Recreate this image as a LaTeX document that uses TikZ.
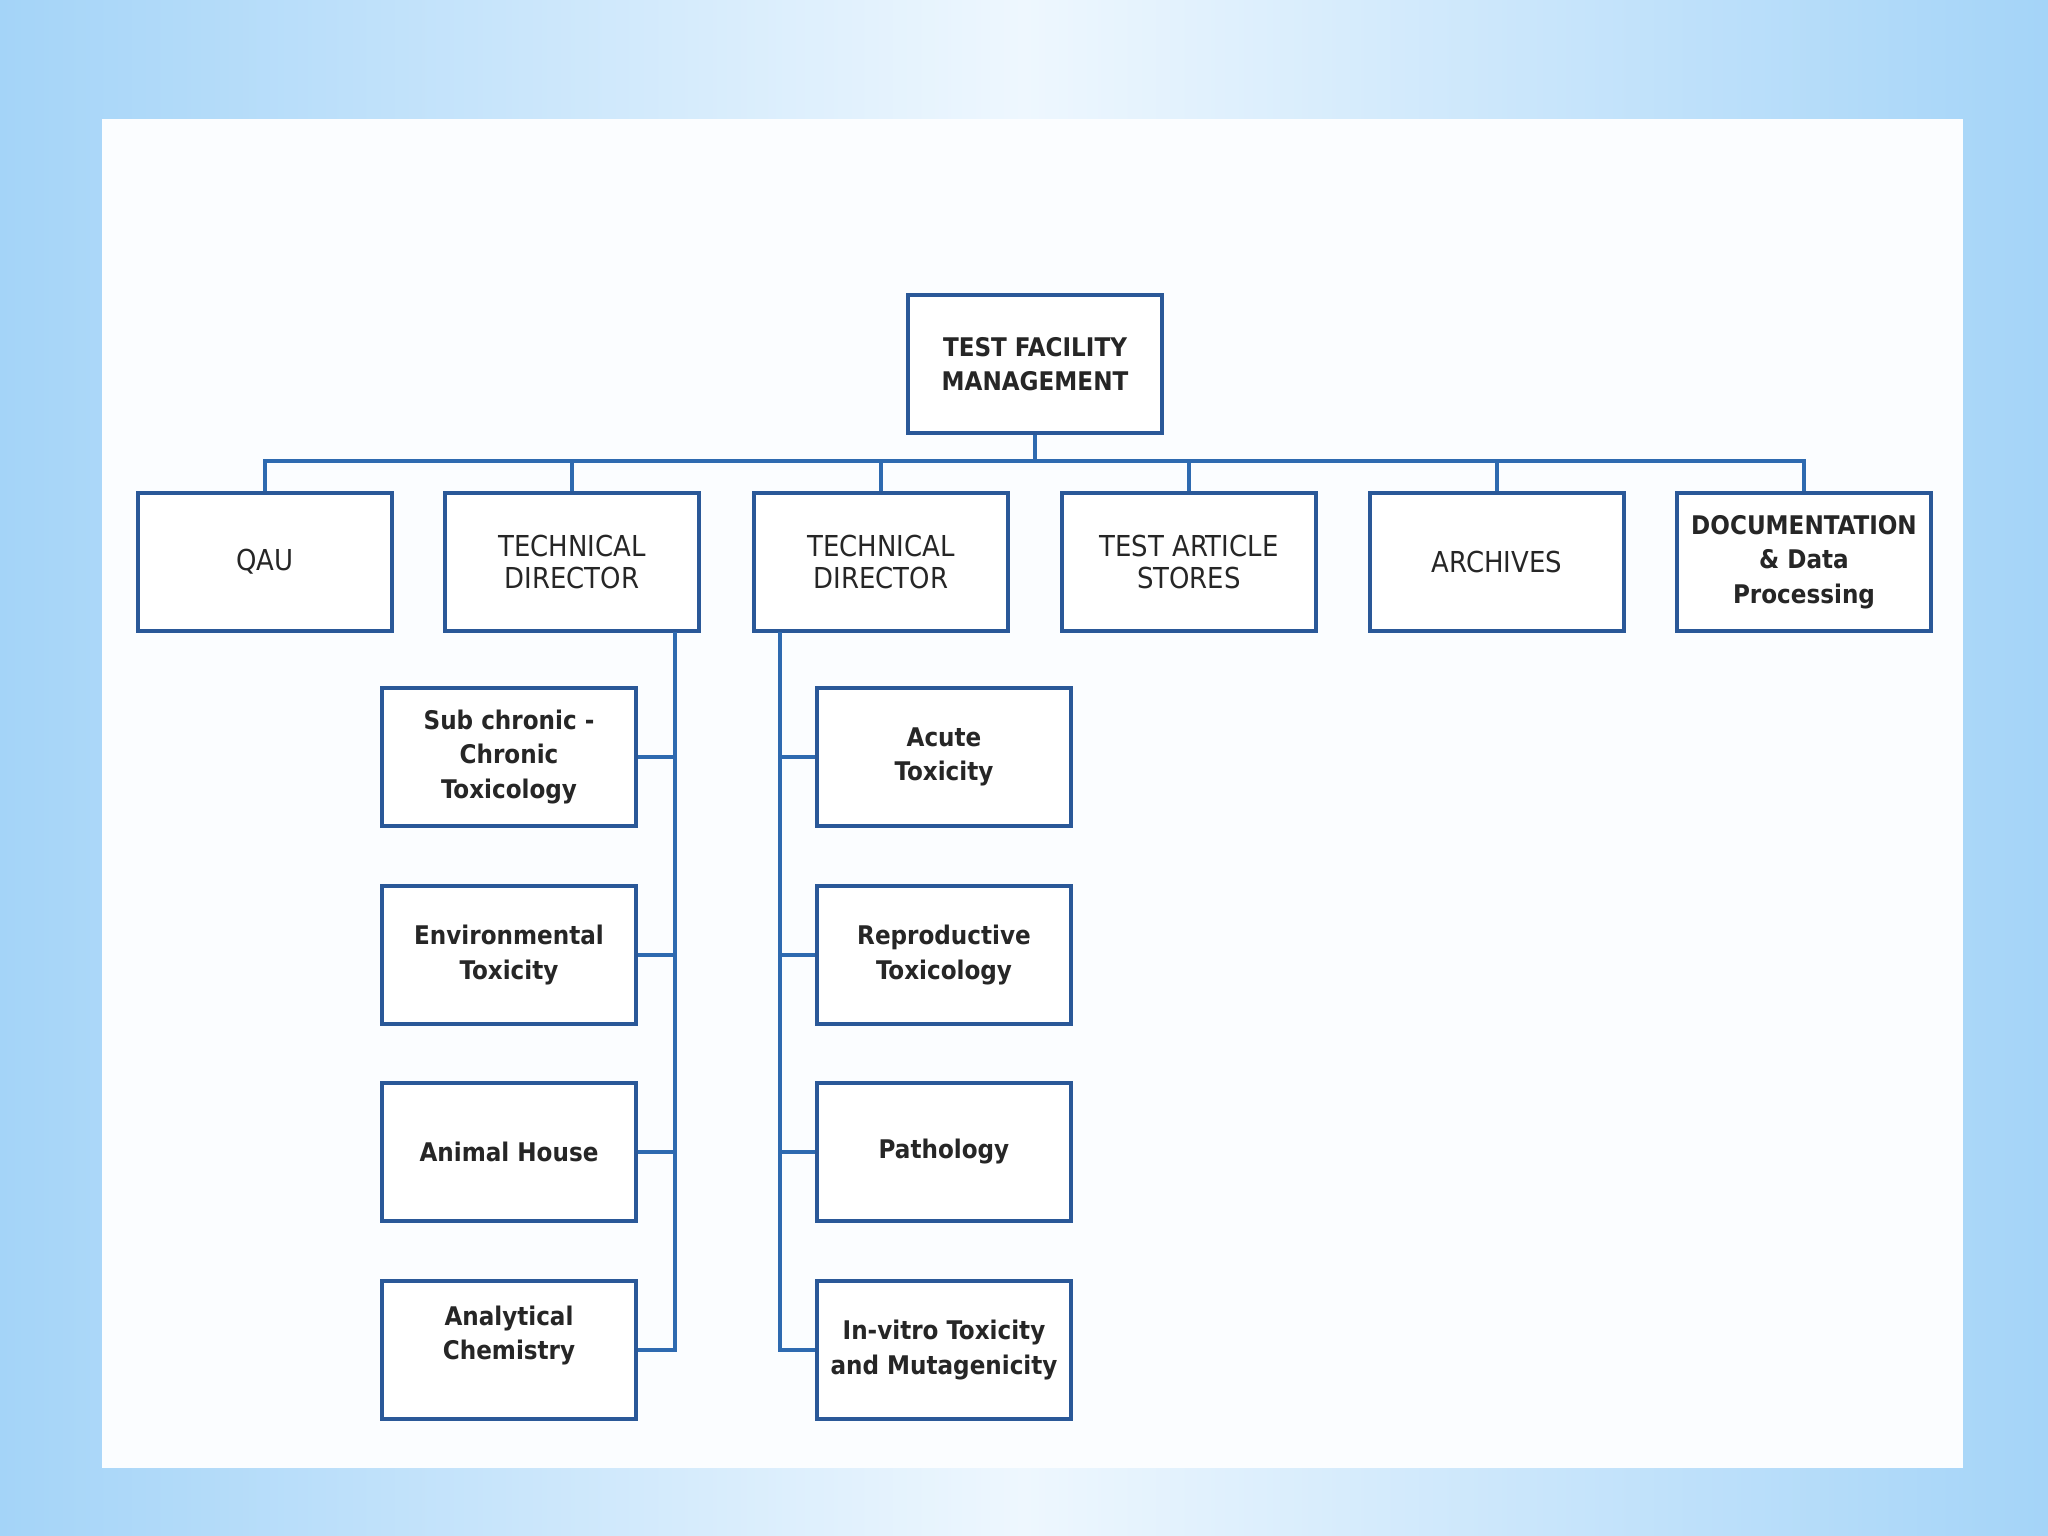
\documentclass[tikz,border=0pt]{standalone}
\usepackage{fontspec}
\setmainfont{DejaVu Sans Condensed}
\definecolor{skyEdge}{RGB}{164,212,248}
\definecolor{skyCenter}{RGB}{238,247,254}
\definecolor{panelColor}{RGB}{251,253,255}
\definecolor{boxColor}{RGB}{42,88,152}
\definecolor{linkColor}{RGB}{46,106,176}
\tikzstyle{chart} = [x = .01cm, y = -.01cm]
\tikzstyle{unitBox} = [draw=boxColor, fill=white, line width=1.2pt, minimum width=2.54cm, minimum height=1.38cm, align=center, inner sep=1pt, text=black!85]
\tikzstyle{headText} = [font=\fontsize{8.2}{9.2}\selectfont]
\tikzstyle{labText} = [font=\bfseries\fontsize{7.3}{9.8}\selectfont]
\tikzstyle{link} = [draw=linkColor, line width=1.1pt]
\newcommand{\unitNode}[4]{\node [unitBox, #4] (#1) at (#2) {#3};}

\begin{document}
\begin{tikzpicture}[chart]
  \useasboundingbox (0,0) rectangle (2048,1536);
  \shade [left color=skyEdge, right color=skyEdge, middle color=skyCenter] (0,0) rectangle (2048,1536);
  \fill [panelColor] (102,119) rectangle (1963,1468);
  % top of the chart
  \unitNode{mgmt}{1035,364}{TEST FACILITY\\MANAGEMENT}{labText}
  \unitNode{qau}{265,562}{QAU}{headText}
  \unitNode{techA}{572,562}{TECHNICAL\\DIRECTOR}{headText}
  \unitNode{techB}{881,562}{TECHNICAL\\DIRECTOR}{headText}
  \unitNode{stores}{1189,562}{TEST ARTICLE\\STORES}{headText}
  \unitNode{archives}{1497,562}{ARCHIVES}{headText}
  \unitNode{docs}{1804,562}{DOCUMENTATION\\\& Data\\Processing}{labText}
  % left column
  \unitNode{subChronic}{509,757}{Sub chronic -\\Chronic\\Toxicology}{labText}
  \unitNode{envTox}{509,955}{Environmental\\Toxicity}{labText}
  \unitNode{animalHouse}{509,1152}{Animal House}{labText}
  \unitNode{anaChem}{509,1350}{Analytical\\Chemistry\\\mbox{}}{labText}
  % right column
  \unitNode{acuteTox}{944,757}{Acute\\Toxicity}{labText}
  \unitNode{reproTox}{944,955}{Reproductive\\Toxicology}{labText}
  \unitNode{pathology}{944,1152}{Pathology}{labText}
  \unitNode{inVitro}{944,1350}{In-vitro Toxicity\\and Mutagenicity}{labText}
  % connectors
  \coordinate (bus) at (1035,461);
  \coordinate (spineA) at (675,632);
  \coordinate (spineB) at (780,632);
  \foreach \unit in {qau,techA,techB,stores,archives,docs}
    \draw [link] (mgmt.south) -- (mgmt.south |- bus) -| (\unit.north);
  \foreach \unit in {subChronic,envTox,animalHouse,anaChem}
    \draw [link] (\unit.east) -| (spineA);
  \foreach \unit in {acuteTox,reproTox,pathology,inVitro}
    \draw [link] (\unit.west) -| (spineB);
\end{tikzpicture}
\end{document}
